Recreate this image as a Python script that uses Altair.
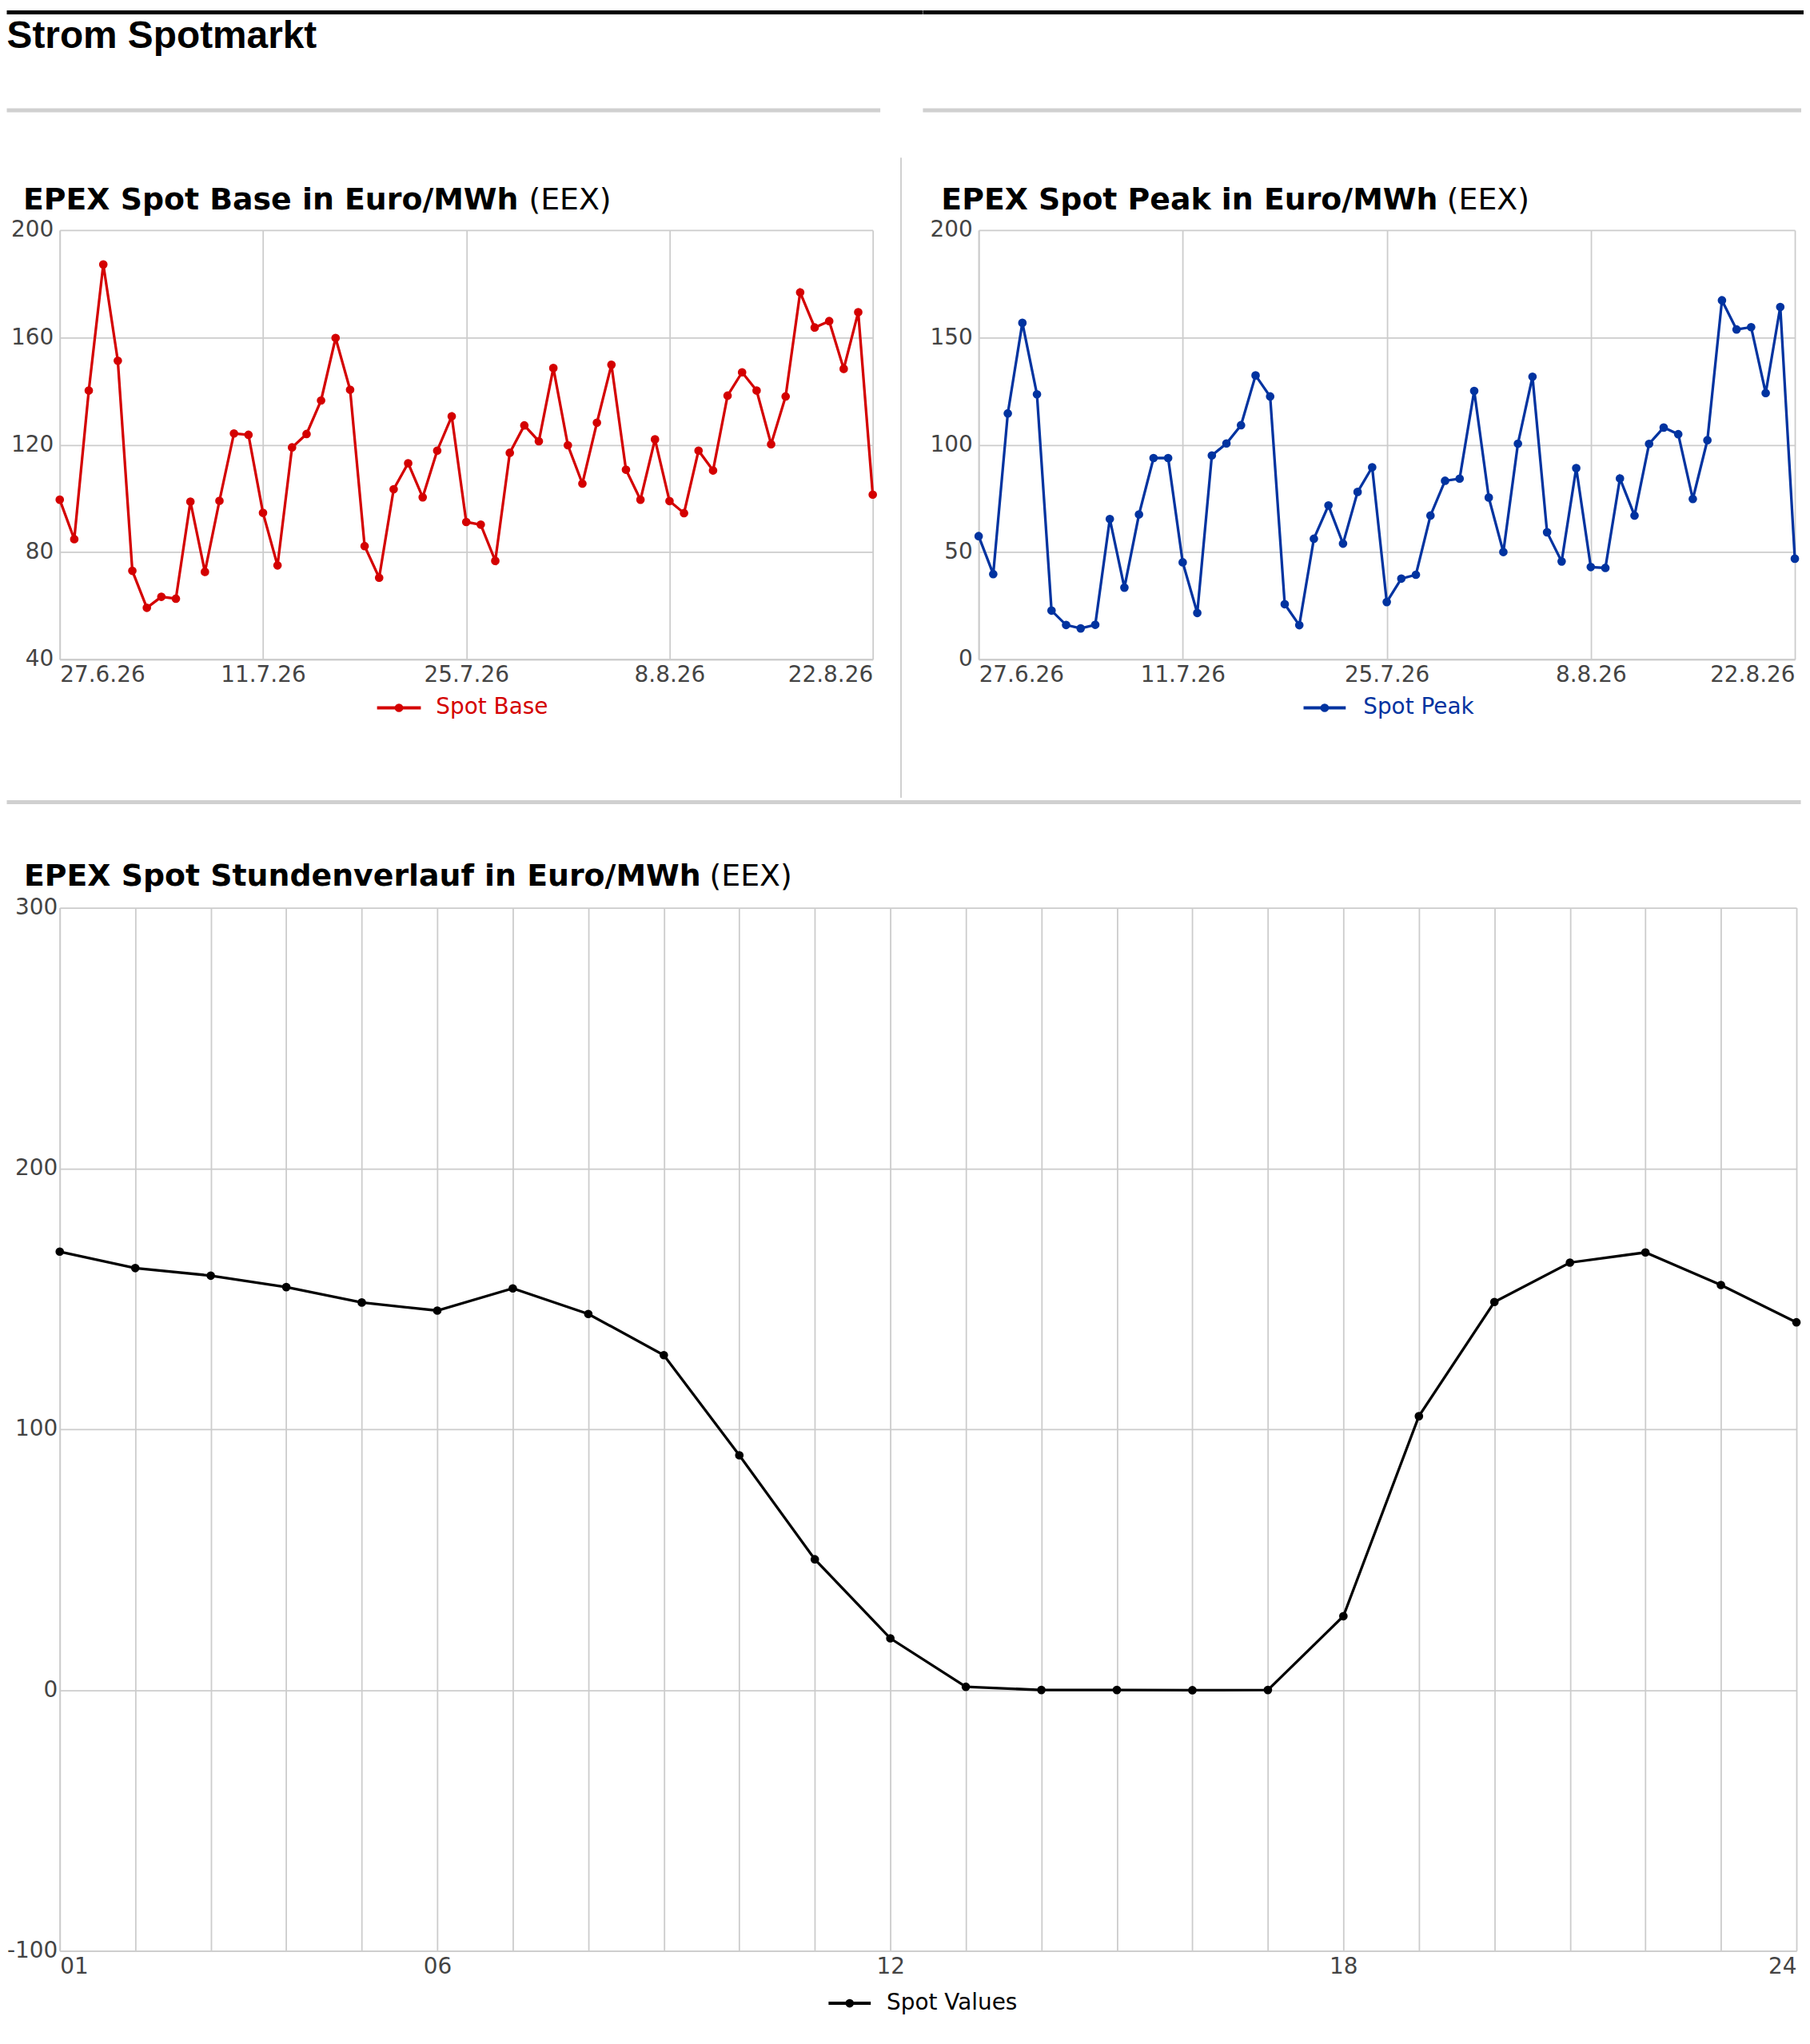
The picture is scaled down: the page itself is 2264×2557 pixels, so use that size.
import altair as alt
import pandas as pd

# ---------------- data ----------------
start_date = "2026-06-27"
date_ticks = ["2026-06-27", "2026-07-11", "2026-07-25", "2026-08-08", "2026-08-22"]

base_values = [99.5, 84.8, 140.2, 187.2, 151.3, 73.0, 59.2, 63.3, 62.6, 98.8,
               72.6, 99.1, 124.2, 123.7, 94.6, 75.0, 119.0, 124.0, 136.5, 159.8,
               140.5, 82.2, 70.4, 103.4, 113.1, 100.4, 117.8, 130.6, 91.2, 90.2,
               76.7, 117.0, 127.2, 121.3, 148.6, 119.8, 105.5, 128.2, 149.8, 110.7,
               99.5, 122.0, 99.0, 94.5, 117.8, 110.4, 138.3, 147.0, 140.2, 120.2,
               138.0, 176.8, 163.7, 166.1, 148.3, 169.4, 101.4]

peak_values = [57.4, 39.7, 114.6, 156.8, 123.5, 22.7, 16.0, 14.4, 16.1, 65.4,
               33.4, 67.5, 93.8, 93.8, 45.2, 21.6, 95.0, 100.6, 109.1, 132.3,
               122.5, 25.7, 15.9, 56.2, 71.7, 53.9, 78.0, 89.5, 26.7, 37.6,
               39.4, 67.0, 83.2, 84.2, 125.1, 75.4, 50.0, 100.5, 131.7, 59.2,
               45.6, 89.1, 43.0, 42.6, 84.3, 67.0, 100.4, 108.0, 104.9, 74.7,
               102.1, 167.3, 153.7, 154.8, 124.1, 164.2, 46.9]

hours = list(range(1, 25))
hour_labels = [1, 6, 12, 18, 24]
hourly_values = [168.1, 161.8, 158.9, 154.5, 148.6, 145.5, 154.0, 144.2, 128.4, 90.0,
                 50.1, 19.8, 1.2, 0.0, 0.0, -0.1, 0.0, 28.3, 105.0, 148.8,
                 163.9, 167.8, 155.3, 141.0]

base_y_ticks = [40, 80, 120, 160, 200]
peak_y_ticks = [0, 50, 100, 150, 200]
hour_y_ticks = [-100, 0, 100, 200, 300]

dates = pd.date_range(start_date, periods=len(base_values), freq="D").strftime("%Y-%m-%d").tolist()
base_df = pd.DataFrame({"date": dates, "value": base_values})
peak_df = pd.DataFrame({"date": dates, "value": peak_values})
hour_df = pd.DataFrame({"hour": hours, "value": hourly_values})
one = pd.DataFrame({"k": [0]})

# ---------------- style ----------------
FONT = "DejaVu Sans"
TITLE_FONT = "Liberation Sans"
LABEL_COLOR = "#444444"
GRID = "#cccccc"
SEP = "#d0d0d0"
RED = "#d40000"
BLUE = "#0033a0"
BLACK = "#000000"
DOT = 115

L = 66.5  # left extent of every row (plot origin x)
T = 276   # top extent of the upper row (plot origin y)
BASE_W, BASE_H = 1021, 539
PEAK_W, PEAK_H = 1025, 539
HOUR_W, HOUR_H = 2181, 1310


def dt(s):
    y, m, d = (int(v) for v in s.split("-"))
    return alt.DateTime(year=y, month=m, date=d, utc=True)


def axis_common(**kw):
    base = dict(title=None, grid=True, gridColor=GRID, gridWidth=1.8,
                domainColor=GRID, domainWidth=1.8, ticks=False,
                labelFont=FONT, labelFontSize=28, labelColor=LABEL_COLOR,
                labelOverlap=False)
    base.update(kw)
    return alt.Axis(**base)


def box(x1, x2, y1, y2, color):
    return alt.Chart(one).mark_rect(color=color, strokeWidth=0).encode(
        x=alt.value(x1), x2=alt.value(x2), y=alt.value(y1), y2=alt.value(y2))


def hrule(x1, x2, y, color, width):
    return alt.Chart(one).mark_rule(color=color, strokeWidth=width).encode(
        x=alt.value(x1), x2=alt.value(x2), y=alt.value(y))


def text(x, y, s, size, color="#000000", weight="normal", font=FONT):
    return alt.Chart(one).mark_text(text=s, align="left", baseline="alphabetic",
                                    font=font, fontSize=size, fontWeight=weight,
                                    color=color).encode(x=alt.value(x), y=alt.value(y))


def dot(x, y, color):
    return alt.Chart(one).mark_circle(size=DOT, color=color, opacity=1).encode(
        x=alt.value(x), y=alt.value(y))


def legend(x1, x2, y, tx, label, color):
    return [hrule(x1, x2, y, color, 4), dot((x1 + x2) / 2, y, color),
            text(tx, y + 8, label, 28, color=color)]


def daily_chart(df, color, y_ticks, bold_title, title_x, eex_x, legend_pos, label, deco):
    x_enc = alt.X("date:T",
                  scale=alt.Scale(type="utc", domain=[dt(date_ticks[0]), dt(date_ticks[-1])], nice=False),
                  axis=axis_common(values=[dt(d) for d in date_ticks],
                                   labelExpr="utcFormat(datum.value, '%-d.%-m.%y')",
                                   labelFlush=True, labelPadding=6))
    y_enc = alt.Y("value:Q",
                  scale=alt.Scale(domain=[y_ticks[0], y_ticks[-1]], nice=False, zero=False),
                  axis=axis_common(values=y_ticks, labelPadding=8))
    line = alt.Chart(df).mark_line(color=color, strokeWidth=3.3).encode(x=x_enc, y=y_enc)
    pts = alt.Chart(df).mark_circle(color=color, size=DOT, opacity=1).encode(x=x_enc, y=y_enc)
    lx1, lx2, ly, ltx = legend_pos
    layers = [line, pts,
              text(title_x, -26, bold_title, 38, weight="bold"),
              text(eex_x, -26, "(EEX)", 38)]
    layers += legend(lx1, lx2, ly, ltx, label, color)
    layers += deco
    return alt.layer(*layers)


# ---------- top row (with page header pieces) ----------
base_deco = [
    box(-L, 1150 - L, -T, -T + 5, BLACK),
    text(-L, -229, "Strom Spotmarkt", 48, weight="bold", font=TITLE_FONT),
    box(-L, 1097 - L, -153, -148, SEP),
    box(1122 - L, 1124 - L, -91, 713, SEP),
]
base_chart = daily_chart(base_df, RED, base_y_ticks, "EPEX Spot Base in Euro/MWh",
                         -46, 589, (398.5, 453.5, 600, 472.5), "Spot Base", base_deco
                         ).properties(width=BASE_W, height=BASE_H)

peak_deco = [
    box(-70, 1036, -T, -T + 5, BLACK),
    box(-70, 1033, -153, -148, SEP),
]
peak_chart = daily_chart(peak_df, BLUE, peak_y_ticks, "EPEX Spot Peak in Euro/MWh",
                         -47, 588, (408, 461, 600, 483), "Spot Peak", peak_deco
                         ).properties(width=PEAK_W, height=PEAK_H)

top_row = alt.hconcat(base_chart, peak_chart, spacing=0)

# ---------- hourly chart ----------
hx = alt.X("hour:Q", scale=alt.Scale(domain=[1, 24], nice=False, zero=False),
           axis=axis_common(values=hours, labelFlush=True, labelPadding=6,
                            labelExpr="indexof(" + str(hour_labels) + ", datum.value) >= 0 ? "
                                      "(datum.value < 10 ? '0' + datum.value : '' + datum.value) : ''"))
hy = alt.Y("value:Q", scale=alt.Scale(domain=[hour_y_ticks[0], hour_y_ticks[-1]], nice=False, zero=False),
           axis=axis_common(values=hour_y_ticks, labelPadding=3,
                            labelExpr="datum.value < 0 ? '-' + abs(datum.value) : '' + datum.value"))
h_line = alt.Chart(hour_df).mark_line(color=BLACK, strokeWidth=3.3).encode(x=hx, y=hy)
h_pts = alt.Chart(hour_df).mark_circle(color=BLACK, size=DOT, opacity=1).encode(x=hx, y=hy)
hour_layers = [h_line, h_pts,
               box(-L, 2253 - L, -135, -130, SEP),
               text(-45, -28, "EPEX Spot Stundenverlauf in Euro/MWh", 38, weight="bold"),
               text(816, -28, "(EEX)", 38)]
hour_layers += legend(965.5, 1018.5, 1376, 1038.5, "Spot Values", BLACK)
hour_chart = alt.layer(*hour_layers).properties(width=HOUR_W, height=HOUR_H)

chart = alt.vconcat(top_row, hour_chart, spacing=3).properties(
    padding=0, background="#ffffff"
).configure_view(strokeWidth=0)

chart.save("out.html", embed_options={"renderer": "svg", "actions": False})
